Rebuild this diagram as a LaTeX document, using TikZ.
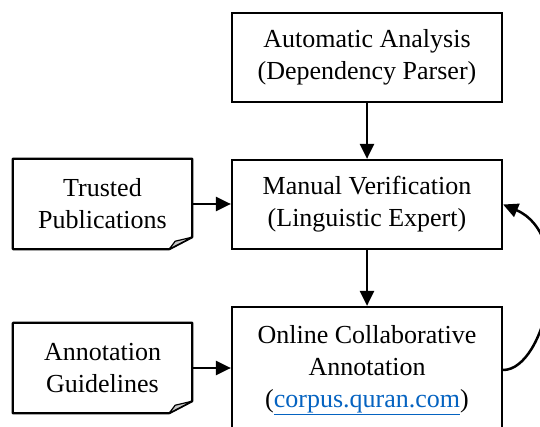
\documentclass[tikz,border=0pt]{standalone}
\usepackage{fontspec}
\setmainfont{Liberation Serif}
\usetikzlibrary{arrows.meta}
\definecolor{linkblue}{HTML}{0563C1}
\definecolor{foldgray}{HTML}{C8C8C8}
\begin{document}
\begin{tikzpicture}[x=1pt,y=-1pt,
  box/.style={draw,line width=2.2pt,minimum width=270pt,align=center,inner sep=0pt,
    font=\fontsize{26}{32}\selectfont},
  docbox/.style={minimum width=179pt,minimum height=90pt,align=center,inner sep=0pt,
    font=\fontsize{26}{32}\selectfont},
  arr/.style={line width=2.5pt,-{Triangle[length=15pt,width=14pt]}},
  docline/.style={line width=2.2pt,line join=bevel},
  fold/.style={line width=1.2pt,line join=round,fill=foldgray}]
\clip (0,0) rectangle (540,427);
\fill[white] (0,0) rectangle (540,427);

\node[box,minimum height=89pt] (top) at (367,57.5) {Automatic Analysis\\(Dependency Parser)};
\node[box,minimum height=89pt] (mid) at (367,204.5) {Manual Verification\\(Linguistic Expert)};
\node[box,minimum height=126pt] (bot) at (367,370) {Online Collaborative\\Annotation\\(\textcolor{linkblue}{\underline{corpus.quran.com}})};

\node[docbox] (trust) at (102.5,204) {Trusted\\Publications};
\node[docbox] (guide) at (102.5,368) {Annotation\\Guidelines};

\foreach \d in {trust,guide}{
  \draw[docline] (\d.north west) -- (\d.north east) -- ([yshift=12pt]\d.south east)
    -- ([xshift=-23pt]\d.south east) -- (\d.south west) -- cycle;
  \draw[fold] ([xshift=-23pt]\d.south east) -- ([xshift=-17pt,yshift=8pt]\d.south east)
    -- ([yshift=12pt]\d.south east) -- cycle;
}

\draw[arr] (top) -- (mid);
\draw[arr] (mid) -- (bot);
\draw[arr] (trust.east) -- (trust.east -| mid.west);
\draw[arr] (guide.east) -- (guide.east -| bot.west);
\draw[arr] (bot.east) .. controls +(43,0) and +(73,31) .. (mid.east);
\end{tikzpicture}
\end{document}
